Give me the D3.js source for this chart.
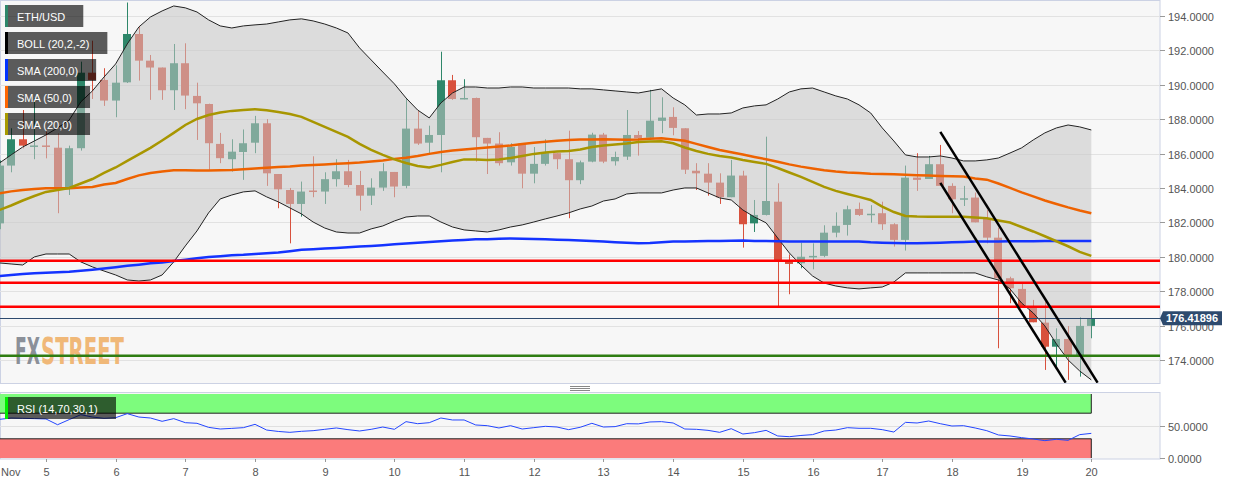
<!DOCTYPE html>
<html><head><meta charset="utf-8">
<script src="https://cdn.jsdelivr.net/npm/d3@7"></script>
<style>
body{margin:0;background:#fff;}
svg{display:block;font-family:"Liberation Sans",Arial,sans-serif;}
</style>
</head><body><svg id="c" width="1244" height="485"></svg>
<script>
// ---------------- DATA ----------------
const startTime = Date.UTC(2019, 10, 4, 8);   // first 4h candle (Nov 4, 08:00)
const candleHours = 4;
const open  = [181.94,185.30,186.83,186.46,186.47,186.34,183.94,186.31,190.70,190.28,189.08,190.14,192.95,191.40,191.00,189.68,191.25,189.35,188.88,186.56,185.67,186.09,186.63,187.76,184.81,183.88,183.07,183.85,183.79,184.51,184.97,184.17,183.55,184.02,184.93,184.12,187.45,186.63,187.08,190.26,189.17,189.23,186.91,186.58,185.49,186.58,184.83,185.40,186.02,185.67,184.45,185.53,187.10,185.55,185.82,187.08,186.92,187.90,188.13,187.47,185.00,184.83,184.31,183.46,184.72,181.94,182.43,183.20,179.79,179.62,180.00,180.05,181.40,181.85,182.78,182.45,182.53,181.89,180.98,184.60,184.52,185.38,184.12,183.38,183.44,182.24,181.11,178.75,178.13,177.10,176.17,174.77,175.22,174.23,175.98];
const high  = [185.60,187.47,188.53,189.22,187.27,187.18,186.46,191.34,192.56,190.96,191.13,194.78,193.38,191.73,191.00,192.37,192.41,190.12,188.90,187.20,186.83,187.40,188.19,188.00,184.81,184.00,184.37,185.84,184.91,185.67,185.63,184.99,184.56,185.44,184.93,189.22,188.48,187.62,191.92,190.57,190.32,189.25,186.91,187.24,186.60,186.60,186.38,186.83,186.02,187.33,185.59,187.21,187.20,186.11,188.53,187.31,189.70,189.27,188.69,187.47,185.44,185.44,184.85,185.63,185.00,183.30,186.98,184.27,180.14,180.82,180.78,181.83,182.58,182.97,183.15,183.00,183.20,181.95,185.30,186.02,185.86,186.50,184.27,184.12,183.73,182.72,181.69,178.84,178.42,177.49,177.39,175.84,175.97,176.48,177.00];
const low   = [181.60,184.91,186.30,185.67,185.72,182.53,183.59,186.17,189.17,188.77,188.11,190.10,190.24,189.12,189.12,188.53,188.58,186.79,185.05,185.44,184.95,184.47,186.02,184.12,182.82,180.78,182.33,183.46,183.07,184.08,184.04,182.68,183.01,183.83,183.46,183.98,186.50,185.96,184.91,189.12,189.15,185.53,184.81,185.30,185.30,183.98,184.27,185.30,185.09,182.24,184.22,185.49,185.44,185.30,185.63,185.88,186.92,187.18,187.06,184.81,183.88,183.55,183.07,183.46,180.53,181.44,182.40,177.13,177.82,179.33,179.27,179.97,181.13,181.23,182.37,181.98,181.56,180.59,180.36,183.83,184.52,184.12,182.53,182.95,182.00,180.78,174.68,177.30,177.10,176.19,173.42,173.61,172.84,173.03,175.26];
const close = [185.30,186.83,186.46,186.47,186.44,183.94,186.31,190.70,190.28,189.08,190.12,192.95,191.40,191.00,189.68,191.25,189.37,188.92,186.60,185.73,186.11,186.60,187.76,184.85,183.92,183.07,183.79,183.80,184.51,184.97,184.17,183.55,184.02,184.97,184.08,187.45,186.58,187.08,190.26,189.17,189.23,186.95,186.58,185.44,186.38,184.83,185.40,186.02,185.67,184.45,185.49,187.10,185.53,185.80,187.08,186.89,187.91,188.09,187.49,185.06,184.85,184.31,183.46,184.72,181.89,182.43,183.24,179.79,179.58,180.00,180.05,181.40,181.80,182.76,182.43,182.50,181.89,180.98,184.60,184.47,185.38,184.12,183.34,183.40,182.00,181.11,178.75,178.17,177.10,176.19,174.77,175.22,174.29,175.98,176.42];

const bbUpper = [185.45,185.92,186.38,186.73,187.08,187.49,187.95,189.00,189.64,190.45,191.21,192.37,193.36,193.94,194.29,194.58,194.47,194.23,193.77,193.42,193.30,193.42,193.48,193.53,193.65,193.77,193.83,193.71,193.53,193.30,193.01,192.14,191.44,190.74,190.05,189.23,188.53,188.07,188.94,189.52,189.87,189.87,189.81,189.81,189.87,189.87,189.81,189.81,189.81,189.81,189.76,189.76,189.70,189.64,189.58,189.52,189.64,189.76,189.23,188.83,188.24,188.30,188.30,188.36,188.65,188.77,188.83,189.17,189.58,189.76,189.81,189.58,189.35,189.17,188.83,188.36,187.49,186.73,185.92,185.80,185.80,185.86,185.74,185.57,185.57,185.63,185.74,186.03,186.33,186.79,187.20,187.49,187.66,187.55,187.37];
const bbLower = [179.64,179.58,179.52,179.99,180.16,180.16,180.16,179.70,179.41,179.17,178.94,178.65,178.59,178.65,178.94,179.70,180.63,181.50,182.55,183.36,183.59,183.77,183.83,183.48,183.19,182.84,182.49,182.02,181.67,181.44,181.38,181.38,181.62,181.79,182.08,182.31,182.37,182.37,182.02,181.73,181.56,181.50,181.44,181.56,181.73,181.85,182.02,182.20,182.37,182.55,182.78,182.95,183.24,183.36,183.65,183.71,183.71,183.71,183.88,184.00,184.00,183.71,183.42,183.30,182.72,182.31,181.97,181.09,180.22,179.52,178.88,178.47,178.30,178.19,178.13,178.19,178.24,178.53,179.06,179.06,179.06,179.06,179.06,179.06,179.06,178.83,178.65,178.13,177.31,176.73,175.98,174.93,174.00,173.36,172.84];
const sma20 = [182.72,182.98,183.27,183.53,183.77,183.88,184.00,184.26,184.52,184.87,185.19,185.57,185.95,186.33,186.76,187.20,187.66,188.01,188.24,188.39,188.48,188.53,188.58,188.51,188.42,188.30,188.13,187.84,187.55,187.26,186.97,186.56,186.21,185.92,185.66,185.45,185.28,185.19,185.34,185.51,185.66,185.66,185.63,185.66,185.74,185.86,185.98,186.06,186.12,186.15,186.24,186.38,186.47,186.53,186.59,186.67,186.70,186.72,186.60,186.35,186.15,185.98,185.86,185.77,185.63,185.51,185.40,185.16,184.90,184.64,184.35,184.06,183.83,183.65,183.48,183.30,182.92,182.60,182.37,182.34,182.33,182.33,182.33,182.33,182.28,182.24,182.11,181.99,181.73,181.47,181.19,180.90,180.61,180.28,180.05];
const sma50 = [183.69,183.80,183.88,183.94,183.98,183.98,183.98,184.03,184.06,184.20,184.29,184.52,184.73,184.87,184.96,185.03,185.03,185.01,185.02,185.03,185.04,185.08,185.13,185.18,185.22,185.25,185.30,185.34,185.37,185.40,185.44,185.48,185.54,185.60,185.69,185.76,185.86,185.98,186.09,186.17,186.24,186.30,186.35,186.41,186.47,186.56,186.63,186.69,186.75,186.79,186.81,186.82,186.83,186.82,186.80,186.82,186.86,186.89,186.82,186.74,186.56,186.38,186.21,186.07,185.94,185.80,185.67,185.52,185.37,185.24,185.13,185.03,184.95,184.90,184.87,184.83,184.81,184.79,184.76,184.74,184.72,184.70,184.68,184.66,184.55,184.48,184.26,184.00,183.74,183.51,183.27,183.07,182.87,182.69,182.53];
const sma200 = [178.88,178.94,178.99,179.04,179.07,179.10,179.13,179.18,179.24,179.31,179.39,179.47,179.54,179.62,179.67,179.75,179.83,179.91,179.99,180.03,180.08,180.11,180.16,180.20,180.25,180.32,180.40,180.44,180.48,180.51,180.55,180.60,180.63,180.67,180.72,180.77,180.81,180.86,180.90,180.95,180.98,181.01,181.02,181.05,181.06,181.05,181.03,181.01,180.99,180.97,180.95,180.92,180.88,180.84,180.81,180.78,180.80,180.84,180.88,180.89,180.90,180.91,180.92,180.93,180.94,180.92,180.91,180.90,180.89,180.88,180.88,180.88,180.88,180.88,180.88,180.84,180.82,180.80,180.79,180.78,180.80,180.82,180.84,180.86,180.88,180.88,180.89,180.90,180.90,180.90,180.91,180.91,180.91,180.91,180.92];
const rsi = [60.4,62.5,62,61.5,61,52,60,67.7,64,62,63,69.3,64,62.5,57.3,61.5,55.2,54.2,47.9,45.3,46.3,47.4,52.6,43.7,41.5,40.1,41.7,42.7,44.8,46.9,44.3,42.2,44.8,48.4,44.8,56.8,53.6,55.2,62.5,59.4,59.4,51.6,50.5,46.9,50.5,45.3,47.4,49.5,48.4,44.3,48,54.2,48.4,49,53.6,53.3,56.3,56.8,54.7,45.3,44.8,43.2,40.1,45.8,37.5,39.6,43.2,34.4,33.3,35.2,36.5,42.2,43.7,47.4,46.4,46.4,44.3,40.6,55.7,54.7,57.8,53.6,50,50.5,46.9,42.7,36,34.4,31.8,29.7,27.1,29.2,27.6,36.5,38.5];

const priceTicks = [174,176,178,180,182,184,186,188,190,192,194];
const rsiTicks = [0,50];
const dayTicks = [5,6,7,8,9,10,11,12,13,14,15,16,17,18,19,20];
const redLevels = [179.76,178.49,177.10];
const greenLevels = [174.25];
const lastPrice = 176.41896;
const channelLines = [
  [[Date.UTC(2019,10,17,20,0),187.26],[Date.UTC(2019,10,20,2,10),172.68]],
  [[Date.UTC(2019,10,17,20,0),184.29],[Date.UTC(2019,10,19,15,10),172.68]]
];
const legendItems = [
  {label:"ETH/USD", color:"#2e876a"},
  {label:"BOLL (20,2,-2)", color:"#000000"},
  {label:"SMA (200,0)", color:"#0033ff"},
  {label:"SMA (50,0)", color:"#ff6600"},
  {label:"SMA (20,0)", color:"#a89a00"}
];

// ---------------- LAYOUT ----------------
const times = open.map((_,i)=> new Date(startTime + i*candleHours*3600e3));
const svg = d3.select("#c");
const PL=0, PR=1160, PT=1, PB=383;
const RT=392, RB=459;

const x = d3.scaleUtc().domain([new Date(startTime), new Date(Date.UTC(2019,10,21,0))]).range([-0.5, 1161]);
const y = d3.scaleLinear().domain([172.66, 194.81]).range([PB, 2]);
const yr = d3.scaleLinear().domain([0,100]).range([458, 394]);

const BULL="#2e876a", BEAR="#d8513d";

const defs = svg.append("defs");
defs.append("clipPath").attr("id","clipMain").append("rect").attr("x",PL).attr("y",PT).attr("width",PR-PL).attr("height",PB-PT);
defs.append("clipPath").attr("id","clipRsi").append("rect").attr("x",PL).attr("y",RT).attr("width",PR-PL).attr("height",RB-RT);

// main panel background
svg.append("rect").attr("x",0.5).attr("y",0.5).attr("width",PR-0.5).attr("height",PB).attr("fill","#f7f7f7").attr("stroke","#ccd2e4");
const gm = svg.append("g").attr("clip-path","url(#clipMain)");

// gridlines
gm.selectAll(".gl").data(priceTicks).enter().append("line")
  .attr("x1",PL).attr("x2",PR).attr("y1",d=>Math.round(y(d))+0.5).attr("y2",d=>Math.round(y(d))+0.5)
  .attr("stroke","#e2e2e2").attr("stroke-width",1);

// logo: two words, horizontally squeezed to the reference widths
const logoFont = "'Liberation Sans Narrow','DejaVu Sans Condensed',sans-serif";
[{t:"FX", x0:15, w:25, c:"#8b9099"},{t:"STREET", x0:41, w:83, c:"#f0b878"}].forEach(p=>{
  const g = gm.append("g");
  const tx = g.append("text").attr("x",0).attr("y",0).attr("font-family",logoFont).attr("font-weight","bold")
    .attr("font-size",37).attr("fill",p.c).text(p.t);
  const nat = tx.node().getComputedTextLength();
  g.attr("transform",`translate(${p.x0},364) scale(${p.w/nat},1)`);
});

// candles
const cg = gm.append("g");
times.forEach((t,i)=>{
  const up = close[i] >= open[i];
  const col = up ? BULL : BEAR;
  const cx = Math.round(x(t)) + 0.5;
  cg.append("line").attr("x1",cx).attr("x2",cx).attr("y1",y(high[i])).attr("y2",y(low[i])).attr("stroke",col).attr("stroke-width",1);
  const yt = y(Math.max(open[i],close[i])), yb = y(Math.min(open[i],close[i]));
  cg.append("rect").attr("x",cx-4.5).attr("width",8).attr("y",yt).attr("height",Math.max(1.5,yb-yt)).attr("fill",col);
});

// bollinger band fill (over candles) and edges
const area = d3.area().x((d,i)=>x(times[i])).y0((d,i)=>y(bbLower[i])).y1((d,i)=>y(bbUpper[i]));
gm.append("path").datum(bbUpper).attr("d",area).attr("fill","rgba(197,197,197,0.54)");
const lineOf = arr => d3.line().x((d,i)=>x(times[i])).y(d=>y(d))(arr);
gm.append("path").attr("d",lineOf(bbUpper)).attr("fill","none").attr("stroke","#222").attr("stroke-width",1);
gm.append("path").attr("d",lineOf(bbLower)).attr("fill","none").attr("stroke","#222").attr("stroke-width",1);

// SMAs
gm.append("path").attr("d",lineOf(sma200)).attr("fill","none").attr("stroke","#1433ff").attr("stroke-width",2.5);
gm.append("path").attr("d",lineOf(sma50)).attr("fill","none").attr("stroke","#ee6200").attr("stroke-width",2.5);
gm.append("path").attr("d",lineOf(sma20)).attr("fill","none").attr("stroke","#a89600").attr("stroke-width",2.5);

// horizontal levels
gm.selectAll(".red").data(redLevels).enter().append("line")
  .attr("x1",PL).attr("x2",PR).attr("y1",d=>y(d)).attr("y2",d=>y(d)).attr("stroke","#ff0000").attr("stroke-width",2.5);
gm.selectAll(".grn").data(greenLevels).enter().append("line")
  .attr("x1",PL).attr("x2",PR).attr("y1",d=>y(d)).attr("y2",d=>y(d)).attr("stroke","#2e7d12").attr("stroke-width",2.5);
gm.append("line").attr("x1",PL).attr("x2",PR).attr("y1",Math.round(y(lastPrice))+0.5).attr("y2",Math.round(y(lastPrice))+0.5).attr("stroke","#2d4a6e").attr("stroke-width",1);

// channel
channelLines.forEach(seg=>{
  gm.append("line").attr("x1",x(new Date(seg[0][0]))).attr("y1",y(seg[0][1]))
    .attr("x2",x(new Date(seg[1][0]))).attr("y2",y(seg[1][1])).attr("stroke","#000").attr("stroke-width",2.5);
});

// legend
const lg = svg.append("g");
legendItems.forEach((d,k)=>{
  const top = 5 + k*27;
  const r = lg.append("rect").attr("x",8).attr("y",top).attr("height",22).attr("fill","rgba(0,0,0,0.63)");
  lg.append("rect").attr("x",5).attr("y",top).attr("width",3).attr("height",22).attr("fill",d.color);
  const t = lg.append("text").attr("x",17).attr("y",top+16).attr("fill","#fff").attr("font-size",11).text(d.label);
  r.attr("width", t.node().getComputedTextLength() + 9 + 18);
});

// main y axis
const ya = svg.append("g");
priceTicks.forEach(v=>{
  const yy = Math.round(y(v))+0.5;
  ya.append("line").attr("x1",PR).attr("x2",PR+5).attr("y1",yy).attr("y2",yy).attr("stroke","#999");
  ya.append("text").attr("x",1168).attr("y",yy+4).attr("fill","#555").attr("font-size",11).text(d3.format(".4f")(v));
});

// last price label
const ly = y(lastPrice);
svg.append("path").attr("d",`M${PR},${ly} L${PR+3},${ly-7} L1222,${ly-7} L1222,${ly+7} L${PR+3},${ly+7} Z`).attr("fill","#2d4a6e");
svg.append("text").attr("x",1192).attr("y",ly+4).attr("text-anchor","middle").attr("fill","#fff").attr("font-weight","bold").attr("font-size",11).text(d3.format(".5f")(lastPrice));

// separator handle
[386.5,388.5,390.5].forEach(v=>svg.append("line").attr("x1",570).attr("x2",590).attr("y1",v).attr("y2",v).attr("stroke","#888").attr("stroke-width",1));

// RSI panel
svg.append("rect").attr("x",0.5).attr("y",RT+0.5).attr("width",PR-0.5).attr("height",RB-RT-0.5).attr("fill","#f7f7f7").attr("stroke","#ccd2e4");
const gr = svg.append("g").attr("clip-path","url(#clipRsi)");
gr.append("line").attr("x1",PL).attr("x2",PR).attr("y1",Math.round(yr(50))+0.5).attr("y2",Math.round(yr(50))+0.5).attr("stroke","#e0e0e0");
const xEnd = x(times[times.length-1]);
gr.append("rect").attr("x",PL).attr("y",yr(100)).attr("width",xEnd-PL).attr("height",yr(70)-yr(100)).attr("fill","#7dfc7d");
gr.append("rect").attr("x",PL).attr("y",yr(30)).attr("width",xEnd-PL).attr("height",yr(0)-yr(30)).attr("fill","#fb7b7b");
gr.append("path").attr("d",`M${PL},${yr(70)}H${xEnd}V${yr(100)}`).attr("fill","none").attr("stroke","#222").attr("stroke-width",1);
gr.append("path").attr("d",`M${PL},${yr(30)}H${xEnd}V${yr(0)}`).attr("fill","none").attr("stroke","#222").attr("stroke-width",1);
gr.append("path").attr("d",d3.line().x((d,i)=>x(times[i])).y(d=>yr(d))(rsi)).attr("fill","none").attr("stroke","#2446ff").attr("stroke-width",1);
// RSI legend
svg.append("rect").attr("x",8).attr("y",397).attr("width",108).attr("height",22).attr("fill","rgba(0,0,0,0.63)");
svg.append("rect").attr("x",5).attr("y",397).attr("width",3).attr("height",22).attr("fill","#00ee00");
svg.append("text").attr("x",17).attr("y",413).attr("fill","#fff").attr("font-size",11).text("RSI (14,70,30,1)");
// RSI axis
rsiTicks.forEach(v=>{
  const yy = Math.round(yr(v))+0.5;
  svg.append("line").attr("x1",PR).attr("x2",PR+5).attr("y1",yy).attr("y2",yy).attr("stroke","#999");
  svg.append("text").attr("x",1168).attr("y",yy+4).attr("fill","#555").attr("font-size",11).text(d3.format(".4f")(v));
});

// x axis
dayTicks.forEach(d=>{
  const xx = Math.round(x(new Date(Date.UTC(2019,10,d))))+0.5;
  svg.append("line").attr("x1",xx).attr("x2",xx).attr("y1",RB).attr("y2",RB+3).attr("stroke","#999");
  svg.append("text").attr("x",xx).attr("y",476).attr("text-anchor","middle").attr("fill","#555").attr("font-size",11).text(d);
});
svg.append("text").attr("x",1).attr("y",476).attr("fill","#555").attr("font-size",11).text("Nov");
</script>
</body></html>
